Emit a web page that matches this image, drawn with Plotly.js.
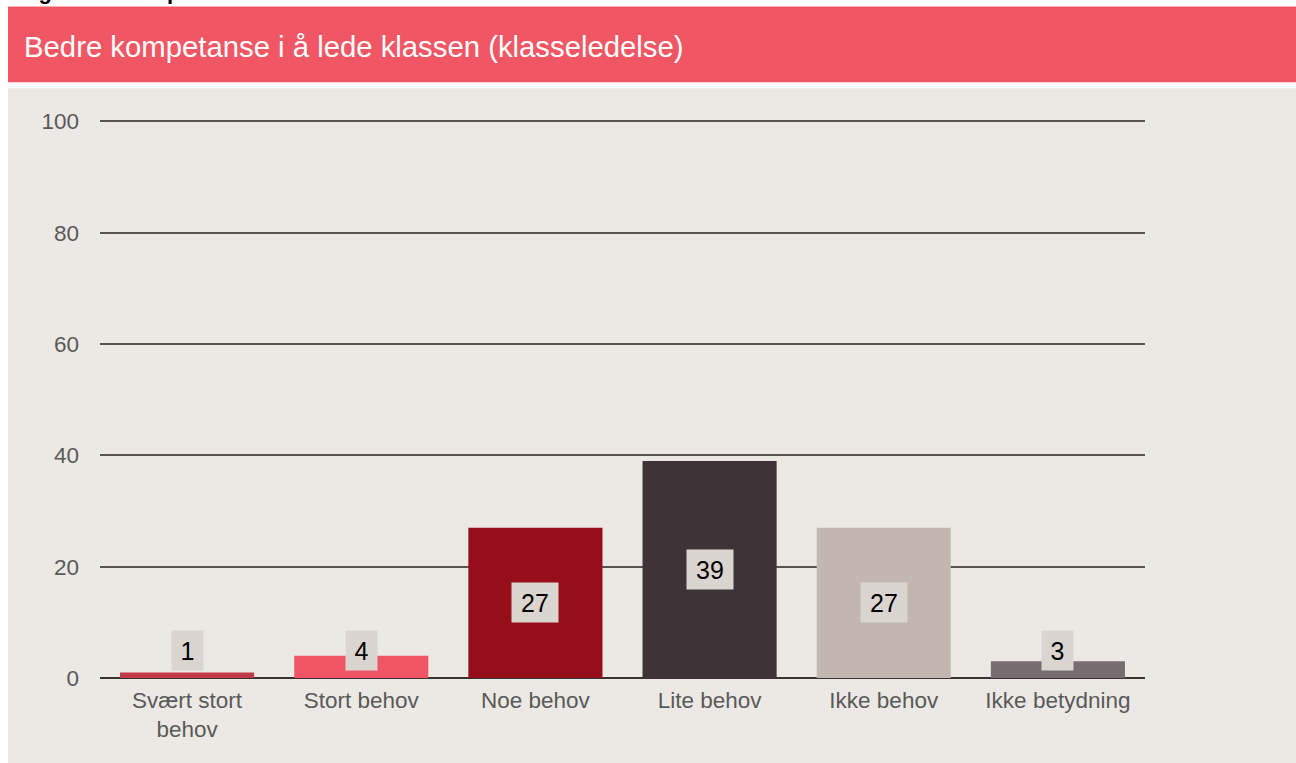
<!DOCTYPE html>
<html>
<head>
<meta charset="utf-8">
<script src="https://cdn.plot.ly/plotly-3.0.1.min.js"></script>
<style>
  html, body { margin: 0; padding: 0; background: #ffffff; }
  #chart { width: 1296px; height: 763px; }
</style>
</head>
<body>
<div id="chart"></div>
<script>
// ---- data ----
const categories = ["Svært stort<br>behov", "Stort behov", "Noe behov", "Lite behov", "Ikke behov", "Ikke betydning"];
const values = [1, 4, 27, 39, 27, 3];
const barColors = ["#C13A4A", "#F05563", "#960E19", "#3E3437", "#C1B6B0", "#776C6F"];
const yTicks = [0, 20, 40, 60, 80, 100];
const bannerTitle = "Bedre kompetanse i å lede klassen (klasseledelse)";
const figureTitle = "Figur 12: Kompetanse i klasseledelse";

// ---- layout helpers (pixel -> paper) ----
const YMAX = 100.6;                 // small headroom so the 100 gridline is drawn
const L = 100, R = 1145, B = 678;
const PXPERUNIT = (678 - 121) / 100;
const T = B - YMAX * PXPERUNIT;
const W = R - L, H = B - T;
const px = v => (v - L) / W;
const py = v => (B - v) / H;

const labelAnnotations = values.map((v, i) => ({
  x: categories[i], y: Math.max(v / 2, 5), xref: 'x', yref: 'y',
  text: String(v), showarrow: false,
  font: { family: 'Arial, Liberation Sans, sans-serif', size: 25, color: '#000000' },
  bgcolor: '#DBD5CF', borderpad: 0,
  width: 16 + 15 * String(v).length, height: 39,
  xanchor: 'center', yanchor: 'middle', align: 'center', valign: 'middle'
}));

const trace = {
  type: 'bar',
  x: categories,
  y: values,
  marker: { color: barColors, line: { width: 0 } },
  hoverinfo: 'x+y'
};

const layout = {
  width: 1296, height: 763,
  margin: { l: L, r: 1296 - R, t: T, b: 763 - B, pad: 0 },
  paper_bgcolor: '#ffffff',
  plot_bgcolor: 'rgba(0,0,0,0)',
  showlegend: false,
  bargap: 0.23,
  font: { family: 'Arial, Liberation Sans, sans-serif', color: '#595959' },
  xaxis: {
    type: 'category',
    tickfont: { size: 22.5, color: '#595959' },
    showgrid: false, zeroline: false, showline: false,
    ticks: '', ticklabelstandoff: 6
  },
  yaxis: {
    range: [0, YMAX], tickvals: yTicks, ticktext: yTicks.map(String),
    tickfont: { size: 22.5, color: '#595959' },
    showgrid: true, gridcolor: '#5A5252', gridwidth: 1.8,
    zeroline: true, zerolinecolor: '#3A3133', zerolinewidth: 2.5,
    showline: false, ticks: '', ticklabelstandoff: 20,
    fixedrange: true
  },
  shapes: [
    { type: 'rect', xref: 'paper', yref: 'paper', layer: 'below',
      x0: px(8), x1: px(1296), y0: py(82), y1: py(6),
      fillcolor: '#F15664', line: { width: 0 } },
    { type: 'rect', xref: 'paper', yref: 'paper', layer: 'below',
      x0: px(8), x1: px(1296), y0: py(763), y1: py(88),
      fillcolor: '#ECE9E4', line: { width: 0 } }
  ],
  annotations: [
    { xref: 'paper', yref: 'paper', x: px(22), y: py(46), xanchor: 'left', yanchor: 'middle',
      text: bannerTitle, showarrow: false,
      font: { family: 'Arial, Liberation Sans, sans-serif', size: 29.3, color: '#ffffff' } },
    { xref: 'paper', yref: 'paper', x: px(18), y: py(5), xanchor: 'left', yanchor: 'bottom',
      text: '<b>' + figureTitle + '</b>', showarrow: false, borderpad: 0,
      font: { family: 'Arial, Liberation Sans, sans-serif', size: 22, color: '#000000' } }
  ].concat(labelAnnotations)
};

Plotly.newPlot('chart', [trace], layout, { displayModeBar: false, staticPlot: true });
</script>
</body>
</html>
